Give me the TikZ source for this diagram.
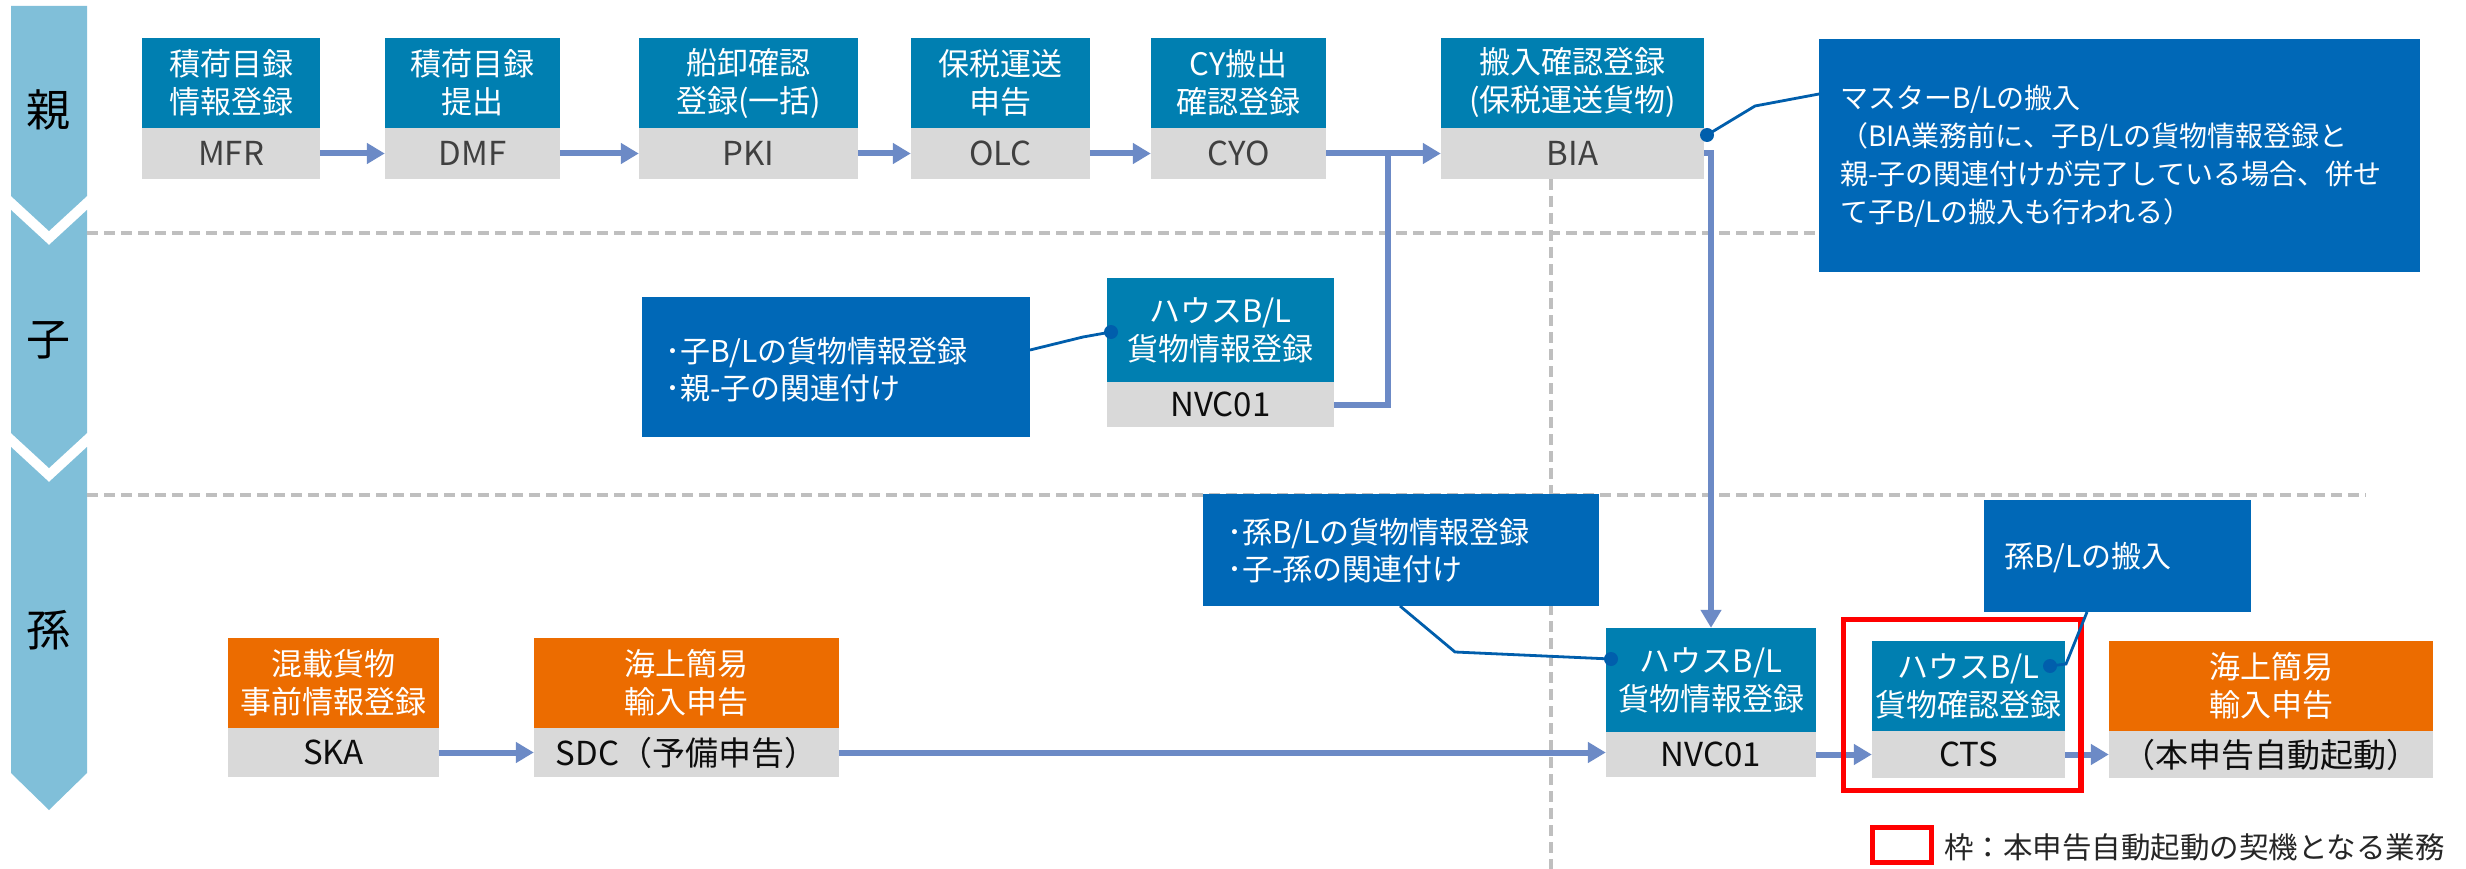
\documentclass[tikz,border=0pt]{standalone}
\usepackage{fontspec}
\setmainfont{Noto Sans CJK JP}
\usetikzlibrary{arrows.meta}

\definecolor{headblue}{RGB}{0,127,177}
\definecolor{codegray}{RGB}{217,217,217}
\definecolor{headorange}{RGB}{236,108,0}
\definecolor{noteblue}{RGB}{0,104,183}
\definecolor{pointblue}{RGB}{0,94,172}
\definecolor{flowblue}{RGB}{108,138,198}
\definecolor{lanecolor}{RGB}{128,191,217}
\definecolor{guidegray}{RGB}{191,191,191}
\definecolor{codetextgray}{RGB}{64,64,64}
\definecolor{codetextdark}{RGB}{13,13,13}
\definecolor{legendtext}{RGB}{38,38,38}
\definecolor{framered}{RGB}{255,0,0}

\newcommand\boxfont{\fontsize{31}{38}\selectfont}
\newcommand\codefont{\fontsize{33}{38}\selectfont}
\newcommand\notefontA{\fontsize{28}{38}\selectfont}
\newcommand\notefontB{\fontsize{30}{37}\selectfont}

% process box: name, left, right, top, split, bottom, header fill, header text, code text
\newcommand\procbox[9]{%
  \node[procHead, fill=#7, minimum width={(#3-#2)*1pt}, minimum height={(#5-#4)*1pt}]
    (#1-h) at ({(#2+#3)/2},{(#4+#5)/2}) {#8};
  \node[procCode, minimum width={(#3-#2)*1pt}, minimum height={(#6-#5)*1pt}]
    (#1-c) at ({(#2+#3)/2},{(#5+#6)/2}) {#9};
}

\begin{document}
\begin{tikzpicture}[x=1pt,y=-1pt,
  procHead/.style={text=white, inner sep=0pt, align=center, font=\boxfont},
  procCode/.style={fill=codegray, text=codetextgray, inner sep=0pt, align=center, font=\codefont},
  noteBox/.style={fill=noteblue, inner sep=0pt},
  noteText/.style={text=white, align=left, inner sep=0pt, anchor=west},
  ptrLine/.style={draw=pointblue, line width=2.8pt},
  ptrDot/.style={circle, fill=pointblue, inner sep=0pt, minimum size=14pt},
  flowArrow/.style={draw=flowblue, line width=6pt, -{Triangle[length=18pt,width=20pt]}},
  flowLine/.style={draw=flowblue, line width=6pt},
  guideLine/.style={draw=guidegray, line width=4pt, dash pattern=on 11pt off 6pt},
  laneShape/.style={fill=lanecolor},
  laneLabel/.style={font=\fontsize{44}{44}\selectfont, text=black, inner sep=0pt},
  triggerFrame/.style={draw=framered, line width=5.5pt, inner sep=0pt},
]
\useasboundingbox (0,0) rectangle (2466,869);
\fill[white] (0,0) rectangle (2466,869);

% lane bar: parent / child / grandchild
\fill[laneShape] (11,6) -- (87,6) -- (87,196) -- (49,231) -- (11,196) -- cycle;
\fill[laneShape] (11,210) -- (49,245) -- (87,210) -- (87,433) -- (49,468) -- (11,433) -- cycle;
\fill[laneShape] (11,447) -- (49,482) -- (87,447) -- (87,773) -- (49,810) -- (11,773) -- cycle;
\node[laneLabel] (laneP) at (48,110) {親};
\node[laneLabel] (laneC) at (49,340) {子};
\node[laneLabel] (laneG) at (49,630) {孫};

% lane separators and the vertical guide
\coordinate (g1a) at (87,233);   \coordinate (g1b) at (1819,233);
\coordinate (g2a) at (87,495);   \coordinate (g2b) at (2366,495);
\coordinate (gva) at (1551,179); \coordinate (gvb) at (1551,869);
\draw[guideLine] (g1a) -- (g1b);
\draw[guideLine] (g2a) -- (g2b);
\draw[guideLine] (gva) -- (gvb);

% parent row
\procbox{mfr}{142}{320}{38}{128}{179}{headblue}{積荷目録\\情報登録}{MFR}
\procbox{dmf}{385}{560}{38}{128}{179}{headblue}{積荷目録\\提出}{DMF}
\procbox{pki}{639}{858}{38}{128}{179}{headblue}{船卸確認\\登録(一括)}{PKI}
\procbox{olc}{911}{1090}{38}{128}{179}{headblue}{保税運送\\申告}{OLC}
\procbox{cyo}{1151}{1326}{38}{128}{179}{headblue}{CY搬出\\確認登録}{CYO}
\procbox{bia}{1441}{1704}{38}{128}{179}{headblue}{搬入確認登録\\(保税運送貨物)}{BIA}

\begin{scope}[procCode/.append style={text=codetextdark}]
% child row
\procbox{nvca}{1107}{1334}{278}{382}{427}{headblue}{ハウスB/L\\貨物情報登録}{NVC01}
% grandchild row
\procbox{ska}{228}{439}{638}{728}{777}{headorange}{混載貨物\\事前情報登録}{SKA}
\procbox{sdc}{534}{839}{638}{728}{777}{headorange}{海上簡易\\輸入申告}{SDC（予備申告）}
\procbox{nvcb}{1606}{1816}{628}{732}{777}{headblue}{ハウスB/L\\貨物情報登録}{NVC01}
\procbox{cts}{1872}{2065}{641}{731}{778}{headblue}{ハウスB/L\\貨物確認登録}{CTS}
\procbox{sda}{2109}{2433}{641}{731}{778}{headorange}{海上簡易\\輸入申告}{（本申告自動起動）}
\end{scope}

% flow
\draw[flowArrow] (mfr-c.east) -- (mfr-c.east -| dmf-c.west);
\draw[flowArrow] (dmf-c.east) -- (dmf-c.east -| pki-c.west);
\draw[flowArrow] (pki-c.east) -- (pki-c.east -| olc-c.west);
\draw[flowArrow] (olc-c.east) -- (olc-c.east -| cyo-c.west);
\draw[flowArrow] (cyo-c.east) -- (cyo-c.east -| bia-c.west);
\coordinate (merge) at (1388,153.5);
\draw[flowLine] (nvca-c.east) -| (merge);
\draw[flowArrow] (bia-c.east) -| (nvcb-h.north);
\draw[flowArrow] (ska-c.east) -- (ska-c.east -| sdc-c.west);
\draw[flowArrow] (sdc-c.east) -- (sdc-c.east -| nvcb-c.west);
\draw[flowArrow] (nvcb-c.east) -- (nvcb-c.east -| cts-c.west);
\draw[flowArrow] (cts-c.east) -- (cts-c.east -| sda-c.west);

% trigger frame
\node[triggerFrame, minimum width=237.5pt, minimum height=171pt] (trigger) at (1962.25,705) {};

% notes
\node[noteBox, minimum width=601pt, minimum height=233pt] (noteA) at (2119.5,155.5) {};
\node[noteText, font=\notefontA] (noteAtext) at (1840,156.5)
  {マスターB/Lの搬入\\（BIA業務前に、子B/Lの貨物情報登録と\\親-子の関連付けが完了している場合、併せ\\て子B/Lの搬入も行われる）};
\node[noteBox, minimum width=388pt, minimum height=140pt] (noteB) at (836,367) {};
\node[noteText, font=\notefontB] (noteBtext) at (665,370)
  {･子B/Lの貨物情報登録\\･親-子の関連付け};
\node[noteBox, minimum width=396pt, minimum height=112pt] (noteC) at (1401,550) {};
\node[noteText, font=\notefontB] (noteCtext) at (1227,551)
  {･孫B/Lの貨物情報登録\\･子-孫の関連付け};
\node[noteBox, minimum width=267pt, minimum height=112pt] (noteD) at (2117.5,556) {};
\node[noteText, font=\notefontB] (noteDtext) at (2004,558) {孫B/Lの搬入};

% note pointers
\coordinate (pA1) at (1755,106);  \coordinate (pA2) at (1819,94);
\coordinate (pB1) at (1083,337);  \coordinate (pB2) at (1030,350);
\coordinate (pC1) at (1455,652);  \coordinate (pC2) at (1400,606);
\coordinate (pD1) at (2066,664);  \coordinate (pD2) at (2087,612);
\node[ptrDot] (dotA) at (1707,135) {};
\node[ptrDot] (dotB) at (1111,332) {};
\node[ptrDot] (dotC) at (1611,659) {};
\node[ptrDot] (dotD) at (2050,666) {};
\draw[ptrLine] (dotA.center) -- (pA1) -- (pA2);
\draw[ptrLine] (dotB.center) -- (pB1) -- (pB2);
\draw[ptrLine] (dotC.center) -- (pC1) -- (pC2);
\draw[ptrLine] (dotD.center) -- (pD1) -- (pD2);

% legend
\node[triggerFrame, minimum width=59pt, minimum height=35pt] (legendKey) at (1902,845) {};
\node[anchor=west, inner sep=0pt, text=legendtext, font=\fontsize{29.5}{30}\selectfont]
  (legendText) at (1944,847) {枠：本申告自動起動の契機となる業務};
\end{tikzpicture}
\end{document}
